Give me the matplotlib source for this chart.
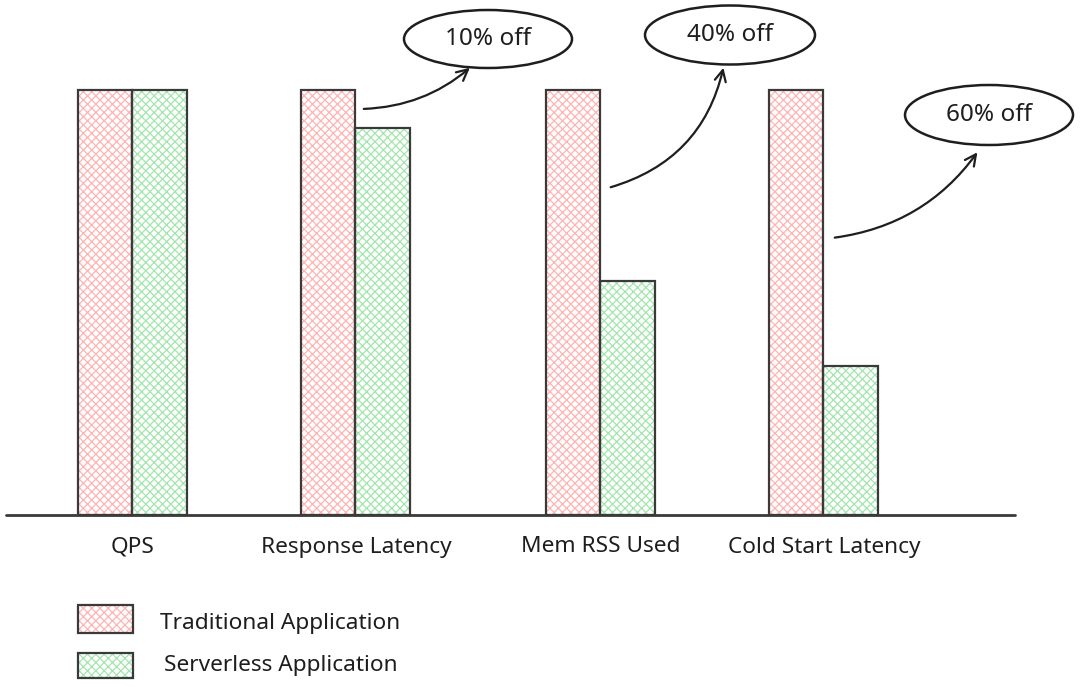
import matplotlib
matplotlib.use("Agg")
import matplotlib.pyplot as plt
from matplotlib.patches import Ellipse, FancyArrowPatch, Rectangle

plt.rcParams['font.family'] = ['Noto Sans', 'DejaVu Sans']
plt.rcParams['hatch.linewidth'] = 0.9

# data (percent of the traditional app)
categories = ["QPS", "Response Latency", "Mem RSS Used", "Cold Start Latency"]
traditional = [100, 100, 100, 100]
serverless = [100, 91, 55, 35]
series_names = ["Traditional Application", "Serverless Application"]
savings = ["10% off", "40% off", "60% off"]

# layout
group_x = [132, 355, 600, 823]      # group centres, in pixels across the figure
bar_w = 54.5
hatch_colors = ["#ffb3b3", "#a3e6ad"]
edge = "#3a3a3a"
ink = "#1e1e1e"

W, H = 1080, 687
base_px, top_px = 515, 90            # pixel rows of 0 and 100
scale = (base_px - top_px) / 100.0

fig = plt.figure(figsize=(W / 100, H / 100), dpi=100)
ax = fig.add_axes([0, 0, 1, 1])
ax.set_xlim(0, W)
ax.set_ylim(-(H - base_px) / scale, base_px / scale)
ax.axis('off')


def py(p):
    # pixel row -> value units
    return (base_px - p) / scale


for k, vals in enumerate([traditional, serverless]):
    xs = [x + (k - 0.5) * bar_w for x in group_x]
    ax.bar(xs, vals, width=bar_w, color='none', edgecolor=hatch_colors[k],
           hatch='xxxx', linewidth=0, zorder=2)
    ax.bar(xs, vals, width=bar_w, fill=False, edgecolor=edge,
           linewidth=1.6, zorder=3)

# baseline
ax.plot([6, 1015], [0, 0], color=edge, lw=2, zorder=4, solid_capstyle='round')

for x, name in zip(group_x, categories):
    ax.text(x + 1, py(547), name, ha='center', va='center', fontsize=16.3,
            color=ink)

# legend, drawn by hand
for k, name in enumerate(series_names):
    y0 = [633, 678][k]
    hgt = [28, 25][k]
    ax.add_patch(Rectangle((78, py(y0)), 55, hgt / scale, facecolor='none',
                           edgecolor=hatch_colors[k], hatch='xxxx', lw=0))
    ax.add_patch(Rectangle((78, py(y0)), 55, hgt / scale, fill=False,
                           edgecolor=edge, lw=1.6))
    ax.text([160, 164][k], py([623, 665][k]), name, ha='left', va='center',
            fontsize=16.3, color=ink)

# callouts: ellipse centre/size and arrow start/end in pixels
bubbles = [(488, 39, 168, 58), (730, 35, 170, 59), (989, 115, 168, 60)]
arrows = [((361, 109), (472, 66), 0.18),
          ((608, 188), (724, 65), 0.3),
          ((832, 238), (979, 150), 0.22)]

for txt, (cx, cy, ew, eh), (p0, p1, rad) in zip(savings, bubbles, arrows):
    ax.add_patch(Ellipse((cx, py(cy)), ew, eh / scale, fill=False,
                         edgecolor=ink, lw=1.8, zorder=5))
    ax.text(cx, py(cy), txt, ha='center', va='center', fontsize=17.5,
            color=ink, zorder=6)
    arr = FancyArrowPatch((p0[0], py(p0[1])), (p1[0], py(p1[1])),
                          connectionstyle=f"arc3,rad={rad}",
                          arrowstyle='->,head_length=8,head_width=4',
                          color=ink, lw=1.6, zorder=5)
    ax.add_patch(arr)

fig.savefig("out.png", dpi=100, facecolor='white')
